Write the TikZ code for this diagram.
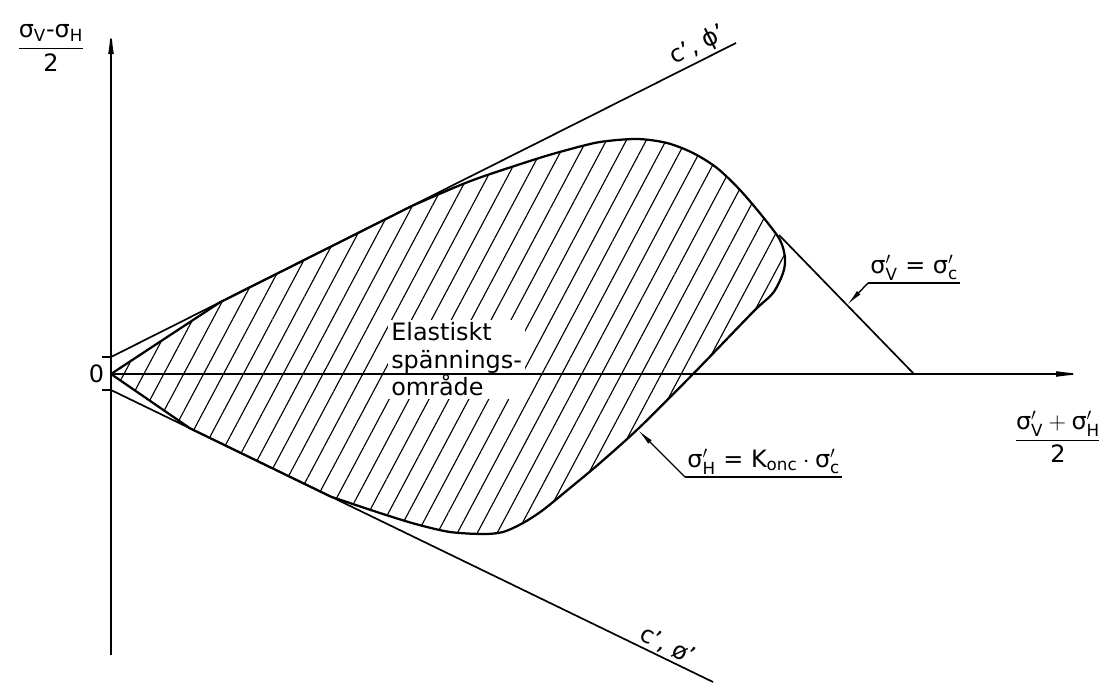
\documentclass[tikz,border=0pt]{standalone}
\usepackage{amsmath}
\usepackage{fontspec}
\setmainfont{DejaVu Sans}
\usetikzlibrary{arrows.meta,patterns.meta}

\begin{document}
\begin{tikzpicture}[font=\fontsize{17}{20}\selectfont,
  axisline/.style={line width=1.2pt},
  boundary/.style={line width=1.6pt,line join=round},
  hatched/.style={pattern={Lines[angle=62,distance=12.5pt,line width=0.8pt]}},
  leader/.style={line width=1pt,-{Latex[length=12pt,width=3.5pt]}},
  tag/.style={inner sep=1.5pt}]
 \useasboundingbox (-2.775,-7.7) rectangle (24.7,9.35);
 % punkter
 \coordinate (O) at (0,0);
 \coordinate (ytop) at (0,8.7);
 \coordinate (ybot) at (0,-7.025);
 \coordinate (xend) at (24.4,0);
 \coordinate (cu0) at (0,0.425);
 \coordinate (cu1) at (15.625,8.275);
 \coordinate (cl0) at (0,-0.4);
 \coordinate (cl1) at (15.05,-7.7);
 \coordinate (sv0) at (16.7,3.475);
 \coordinate (sv1) at (20.075,0);
 \coordinate (svtip) at (18.4,1.725);
 \coordinate (shtip) at (13.175,-1.4);
 % elastiskt omraade
 \draw[boundary,hatched] (O) -- (2.725,1.793) -- (7.5,4.19)
   -- plot[smooth] coordinates {(7.5,4.19) (8.975,4.82) (10.55,5.35) (11.4,5.6)
      (12.225,5.8) (13.15,5.875) (13.9,5.775) (14.55,5.525) (15.15,5.15)
      (15.725,4.6) (16.3,3.925) (16.725,3.35) (16.85,2.9) (16.8,2.525)
      (16.55,2.025) (16.05,1.55) (14.6,0.05) (13.225,-1.325) (12.225,-2.225)
      (11.475,-2.85) (10.8,-3.4) (10.3,-3.725) (9.8,-3.95) (9.3,-4.0)
      (8.475,-3.95) (7.65,-3.76) (6.8,-3.5) (5.5,-3.068)}
   -- (1.975,-1.358) -- cycle;
 \node[fill=white,inner sep=2pt,align=left,anchor=north west,
   font=\fontsize{17}{19.5}\selectfont] (elast) at (6.93,1.36)
   {Elastiskt\\spännings-\\område};
 % axlar
 \draw[axisline,-{Latex[length=20pt,width=4pt]}] (ybot) -- (ytop);
 \draw[axisline,-{Latex[length=22pt,width=4pt]}] (O) -- (xend);
 \draw[axisline] (cu0) -- ++(-0.225,0);
 \draw[axisline] (cl0) -- ++(-0.225,0);
 \node (zero) at (-0.36,0) {0};
 \node (ylab) at (-1.5,8.15)
   {$\dfrac{\text{σ}_{\text{V}}\text{-σ}_{\text{H}}}{\text{2}}$};
 \node (xlab) at (23.675,-1.575)
   {$\dfrac{\text{σ}'_{\text{V}}+\text{σ}'_{\text{H}}}{\text{2}}$};
 % brottlinjer
 \draw[axisline] (cu0) -- node[tag,above,sloped,pos=0.95]{c’, ϕ’} (cu1);
 \draw[axisline] (cl0) -- node[tag,above,sloped,pos=0.915]{c’, ø’} (cl1);
 \draw[axisline] (sv0) -- (sv1);
 % etiketter
 \node[tag,anchor=south west] (svlab) at (18.925,2.275)
   {$\text{σ}'_{\text{V}}\text{ = σ}'_{\text{c}}$};
 \draw[axisline] (svlab.south west) -- (svlab.south east);
 \draw[leader] (svlab.south west) -- (svtip);
 \node[tag,anchor=south west] (shlab) at (14.35,-2.575)
   {$\text{σ}'_{\text{H}}\text{ = K}_{\text{onc}}\cdot\text{σ}'_{\text{c}}$};
 \draw[axisline] (shlab.south west) -- (shlab.south east);
 \draw[leader] (shlab.south west) -- (shtip);
\end{tikzpicture}
\end{document}
